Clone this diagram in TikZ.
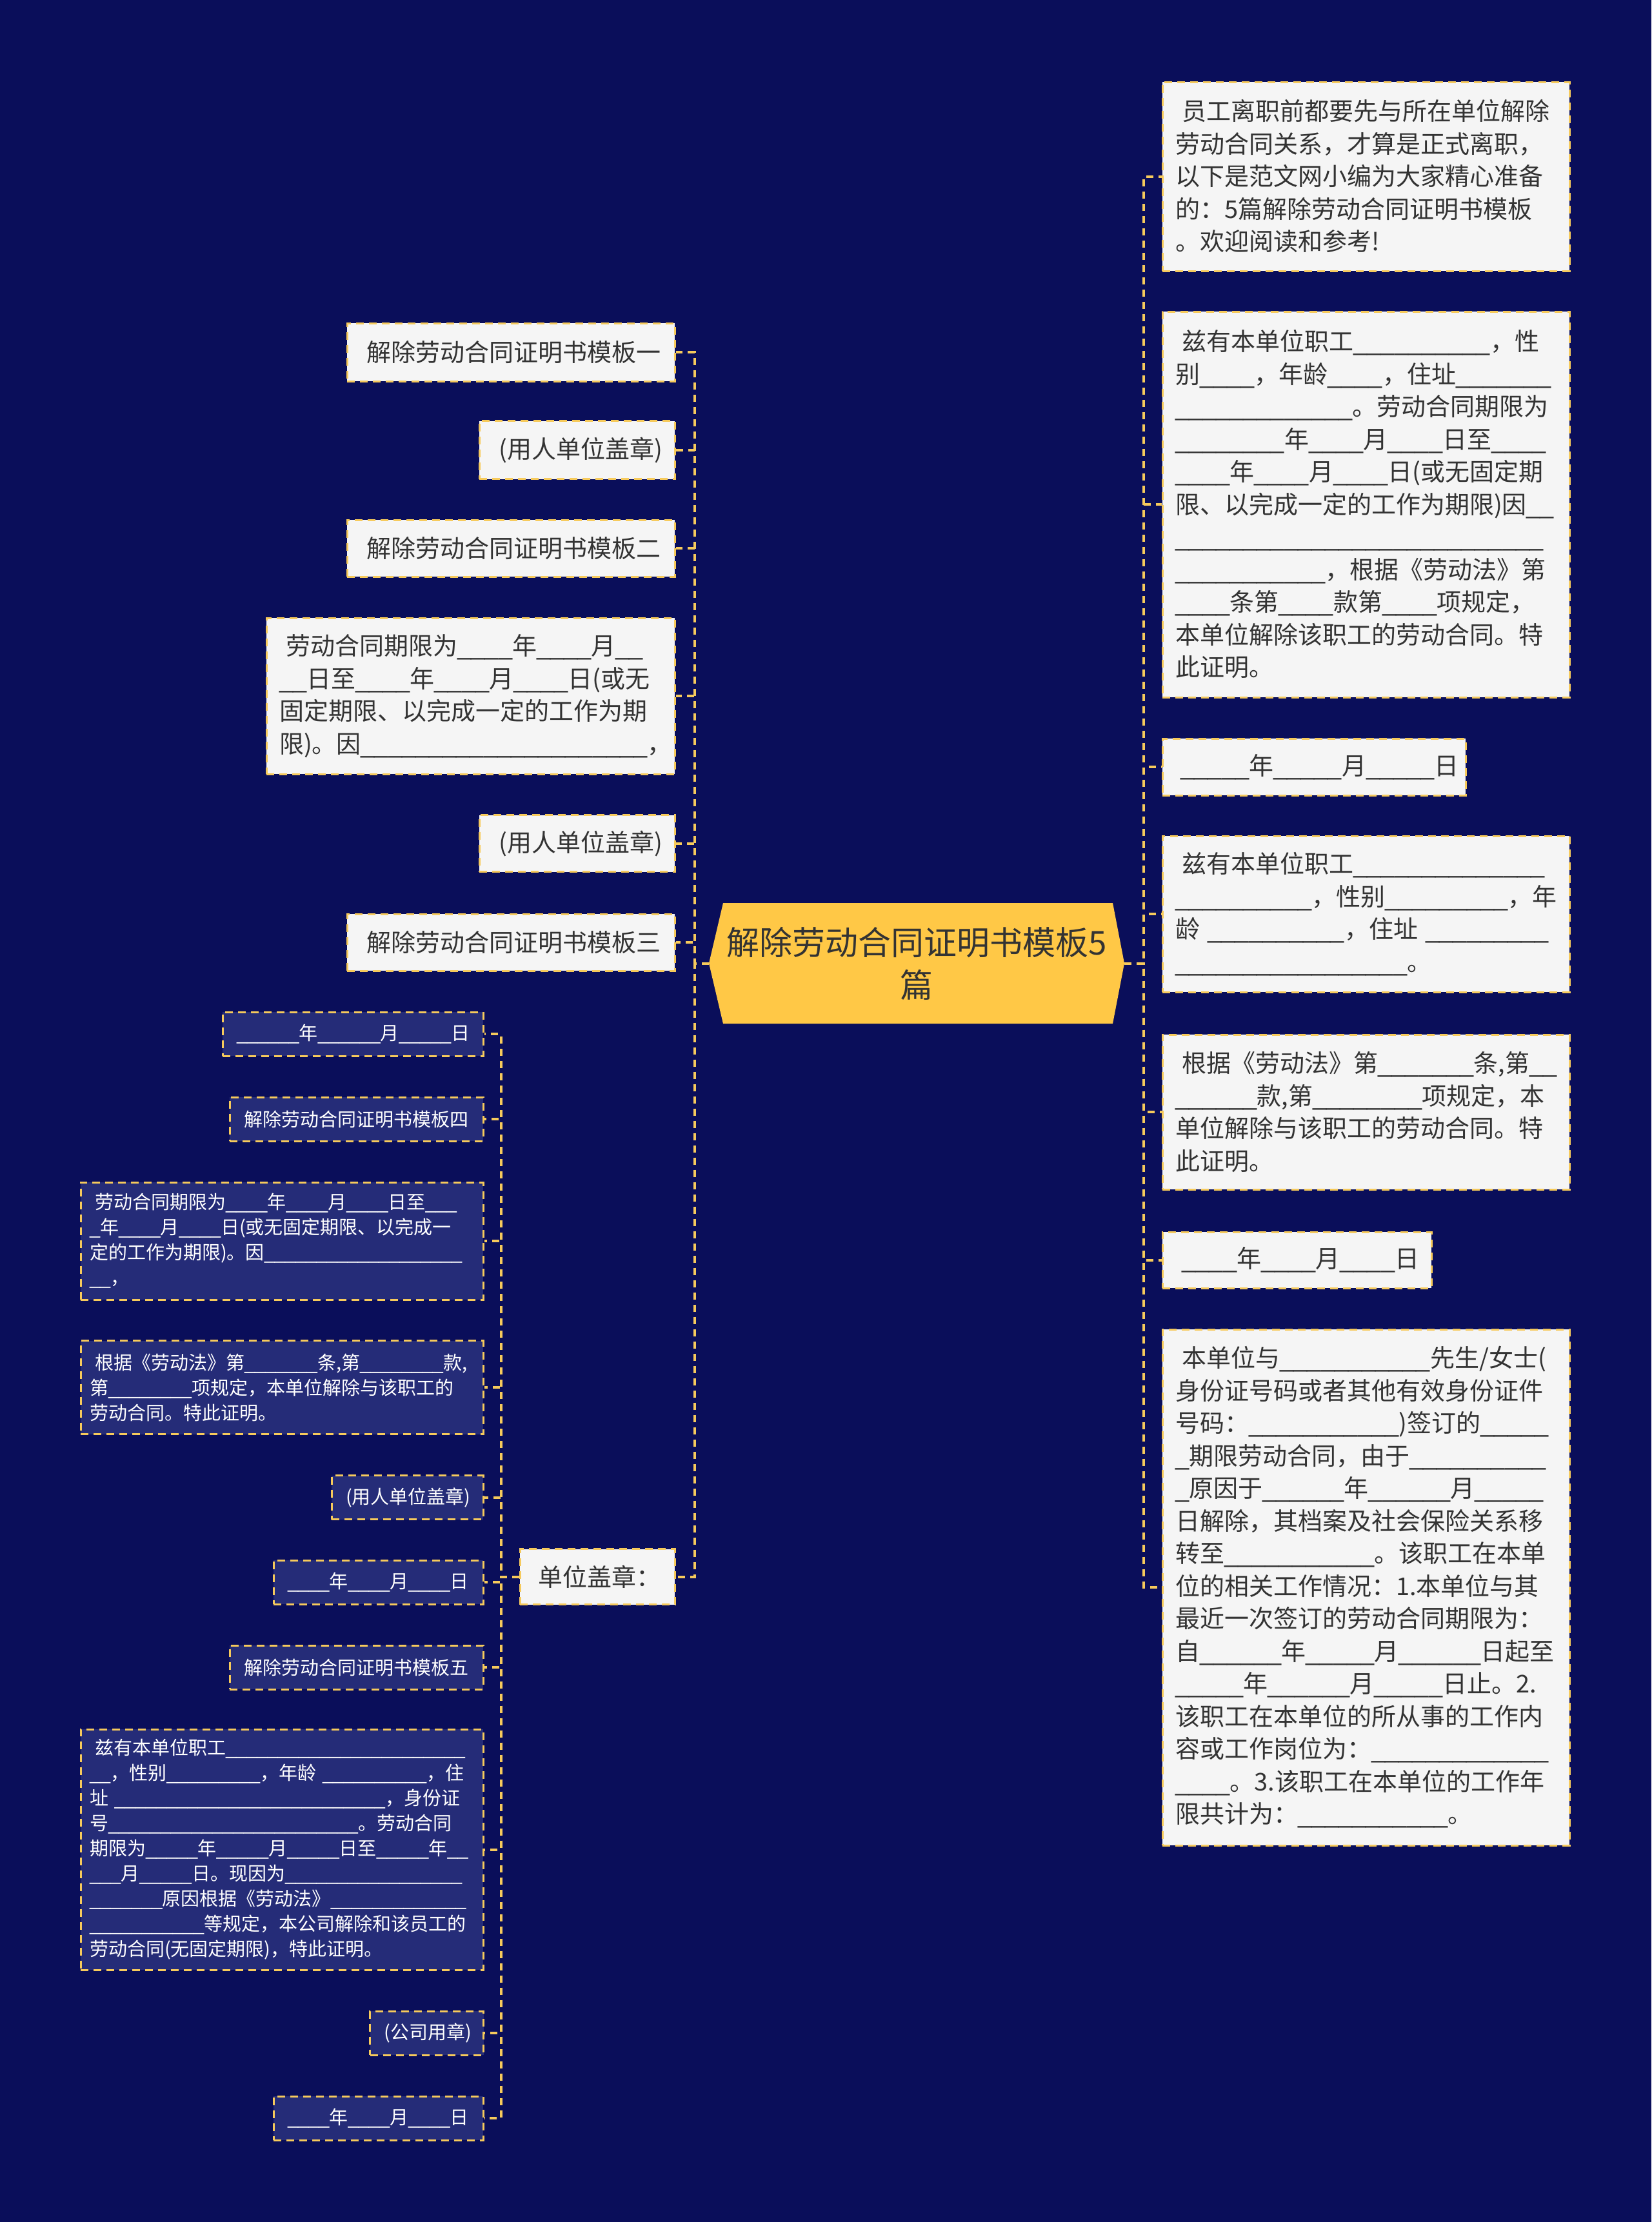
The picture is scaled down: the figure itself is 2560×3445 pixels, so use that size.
\documentclass[tikz,border=0pt]{standalone}
\usepackage{fontspec}
\setmainfont{Noto Sans CJK SC}
\newfontfamily\libfont{Liberation Sans}
\definecolor{bg}{RGB}{10,14,90}
\definecolor{boxw}{RGB}{245,245,245}
\definecolor{boxd}{RGB}{37,44,120}
\definecolor{bord}{RGB}{246,202,92}
\definecolor{hub}{RGB}{255,200,70}
\definecolor{txt}{RGB}{51,51,51}
\newcommand\fsA{\fontsize{38pt}{50.5pt}\selectfont}
\newcommand\fsB{\fontsize{29pt}{39pt}\selectfont}
\newcommand\fsC{\fontsize{51pt}{66pt}\selectfont}
\newcommand\myind{\hspace*{0.28em}}
\newcount\blcount
\newcommand\bl[1]{{\libfont\blcount=#1\relax\loop\textunderscore\advance\blcount by -1 \ifnum\blcount>0 \repeat}}
\tikzset{
  lbox/.style={draw=bord, fill=boxw, line width=3pt, dash pattern=on 12pt off 8pt, text=txt, font=\fsA, align=left, inner xsep=20pt, inner ysep=0pt},
  dbox/.style={draw=bord, fill=boxd, line width=3pt, dash pattern=on 12pt off 8pt, text=white, font=\fsB, align=left, inner xsep=14pt, inner ysep=0pt},
  conn/.style={draw=bord, line width=4pt, dash pattern=on 11pt off 8pt},
}
\begin{document}
\begin{tikzpicture}[x=1pt,y=-1pt]
\fill[bg] (0,0) rectangle (2560,3445);
\useasboundingbox (0,0) rectangle (2560,3445);
% center
\fill[hub] (1099,1493.5) -- (1121,1400) -- (1725,1400) -- (1743,1493.5) -- (1725,1587) -- (1121,1587) -- cycle;
\node[minimum width=644pt, minimum height=187pt, inner sep=0pt, text width=620pt, align=center, font=\fsC, text=txt] (c) at (1421,1493.5) {解除劳动合同证明书模板5\\篇};
% right column
\node[lbox, text width=591pt, minimum height=293pt] (r1) at (2117.5,273.5) {\myind 员工离职前都要先与所在单位解除\\劳动合同关系，才算是正式离职，\\以下是范文网小编为大家精心准备\\的：5篇解除劳动合同证明书模板\\。欢迎阅读和参考!};
\node[lbox, text width=591pt, minimum height=598pt] (r2) at (2117.5,782) {\myind 兹有本单位职工\bl{10}，性\\别\bl{4}，年龄\bl{4}，住址\bl{7}\\\bl{13}。劳动合同期限为\\\bl{8}年\bl{4}月\bl{4}日至\bl{4}\\\bl{4}年\bl{4}月\bl{4}日(或无固定期\\限、以完成一定的工作为期限)因\bl{2}\\\bl{27}\\\bl{11}，根据《劳动法》第\\\bl{4}条第\bl{4}款第\bl{4}项规定，\\本单位解除该职工的劳动合同。特\\此证明。};
\node[lbox, text width=434pt, inner xsep=18pt, minimum height=88pt] (r3) at (2037,1189) {\myind\bl{5}年\bl{5}月\bl{5}日};
\node[lbox, text width=591pt, minimum height=242pt] (r4) at (2117.5,1417) {\myind 兹有本单位职工\bl{14}\\\bl{10}，性别\bl{9}，年\\龄 \bl{10}，住址 \bl{9}\\\bl{17}。};
\node[lbox, text width=591pt, minimum height=240pt] (r5) at (2117.5,1724) {\myind 根据《劳动法》第\bl{7}条,第\bl{2}\\\bl{6}款,第\bl{8}项规定，本\\单位解除与该职工的劳动合同。特\\此证明。};
\node[lbox, text width=377pt, minimum height=87pt] (r6) at (2010.5,1953.5) {\myind\bl{4}年\bl{4}月\bl{4}日};
\node[lbox, text width=591pt, minimum height=800pt] (r7) at (2117.5,2461) {\myind 本单位与\bl{11}先生/女士(\\身份证号码或者其他有效身份证件\\号码：\bl{11})签订的\bl{5}\\\bl{1}期限劳动合同，由于\bl{10}\\\bl{1}原因于\bl{6}年\bl{6}月\bl{5}\\日解除，其档案及社会保险关系移\\转至\bl{11}。该职工在本单\\位的相关工作情况：1.本单位与其\\最近一次签订的劳动合同期限为：\\自\bl{6}年\bl{5}月\bl{6}日起至\\\bl{5}年\bl{6}月\bl{5}日止。2.\\该职工在本单位的所从事的工作内\\容或工作岗位为：\bl{13}\\\bl{4}。3.该职工在本单位的工作年\\限共计为：\bl{11}。};
% left column
\node[lbox, text width=468pt, minimum height=90pt] (l1) at (792,546) {\myind 解除劳动合同证明书模板一};
\node[lbox, text width=263pt, minimum height=90pt] (l2) at (894.5,697.7) {\myind (用人单位盖章)};
\node[lbox, text width=468pt, minimum height=88pt] (l3) at (792,850) {\myind 解除劳动合同证明书模板二};
\node[lbox, text width=593pt, minimum height=242pt] (l4) at (729.5,1079) {\myind 劳动合同期限为\bl{4}年\bl{4}月\bl{2}\\\bl{2}日至\bl{4}年\bl{4}月\bl{4}日(或无\\固定期限、以完成一定的工作为期\\限)。因\bl{21}，};
\node[lbox, text width=263pt, minimum height=88pt] (l5) at (894.5,1307.5) {\myind (用人单位盖章)};
\node[lbox, text width=468pt, minimum height=88pt] (l6) at (792,1461) {\myind 解除劳动合同证明书模板三};
\node[lbox, text width=204pt, inner xsep=18pt, minimum height=86pt] (l7) at (926,2444.6) {\myind 单位盖章：};
% second level
\node[dbox, text width=376pt, minimum height=68pt] (m1) at (547,1603) {\myind\bl{6}年\bl{6}月\bl{5}日};
\node[dbox, text width=365pt, minimum height=68pt] (m2) at (552.5,1735) {\myind 解除劳动合同证明书模板四};
\node[dbox, text width=596pt, minimum height=182pt] (m3) at (437,1924) {\myind 劳动合同期限为\bl{4}年\bl{4}月\bl{4}日至\bl{3}\\\bl{1}年\bl{4}月\bl{4}日(或无固定期限、以完成一\\定的工作为期限)。因\bl{19}\\\bl{2}，};
\node[dbox, text width=596pt, minimum height=145pt] (m4) at (437,2151) {\myind 根据《劳动法》第\bl{7}条,第\bl{8}款,\\第\bl{8}项规定，本单位解除与该职工的\\劳动合同。特此证明。};
\node[dbox, text width=207pt, minimum height=68pt] (m5) at (631.5,2321.5) {\myind (用人单位盖章)};
\node[dbox, text width=297pt, minimum height=68pt] (m6) at (586.5,2453) {\myind\bl{4}年\bl{4}月\bl{4}日};
\node[dbox, text width=365pt, minimum height=68pt] (m7) at (552.5,2585) {\myind 解除劳动合同证明书模板五};
\node[dbox, text width=596pt, minimum height=373pt] (m8) at (437,2867.5) {\myind 兹有本单位职工\bl{23}\\\bl{2}，性别\bl{9}，年龄 \bl{10}，住\\址 \bl{26}，身份证\\号\bl{24}。劳动合同\\期限为\bl{5}年\bl{5}月\bl{5}日至\bl{5}年\bl{2}\\\bl{3}月\bl{5}日。现因为\bl{17}\\\bl{7}原因根据《劳动法》\bl{13}\\\bl{11}等规定，本公司解除和该员工的\\劳动合同(无固定期限)，特此证明。};
\node[dbox, text width=148pt, minimum height=68pt] (m9) at (661.5,3152) {\myind (公司用章)};
\node[dbox, text width=297pt, minimum height=68pt] (m10) at (586.5,3284) {\myind\bl{4}年\bl{4}月\bl{4}日};
% connectors
\foreach \n in {r1,r2,r3,r4,r5,r6,r7}
  \draw[conn] (c.east) -- ++(30,0) |- (\n.west);
\foreach \n in {l1,l2,l3,l4,l5,l6,l7}
  \draw[conn] (c.west) -- ++(-22,0) |- (\n.east);
\foreach \n in {m1,m2,m3,m4,m5,m6,m7,m8,m9,m10}
  \draw[conn] (l7.west) -- ++(-28,0) |- (\n.east);
\end{tikzpicture}
\end{document}
